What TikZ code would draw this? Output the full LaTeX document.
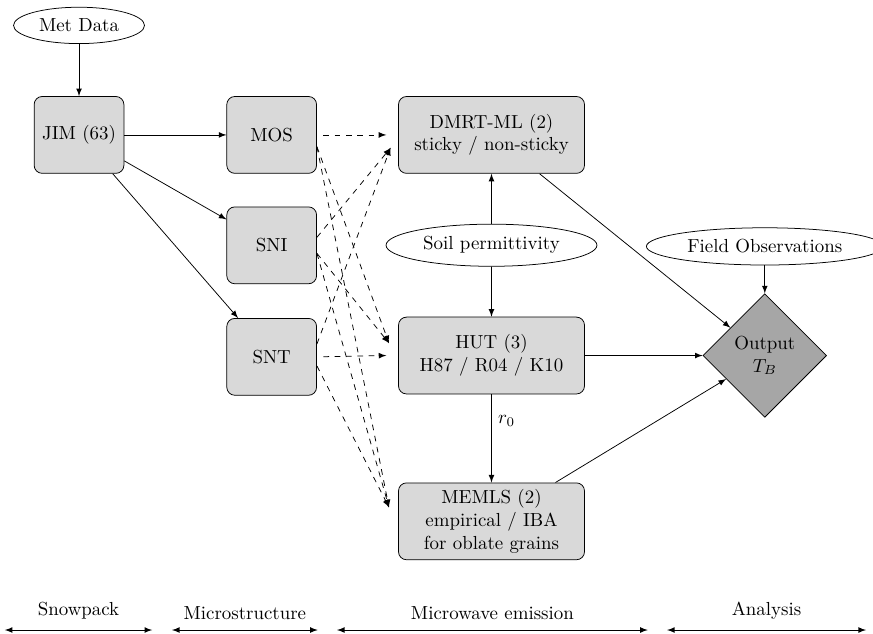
\documentclass[tikz,border=0pt]{standalone}
\usepackage{amsmath,amssymb}
\usepackage{tikz}
\usetikzlibrary{shapes,arrows,calc,positioning}

\begin{document}
\begin{tikzpicture}[>=latex, auto,
  box/.style={rectangle, rounded corners=0.15cm, draw, fill=gray!30, minimum height=1.43cm, minimum width=1.67cm, align=center},
  wide/.style={box, minimum width=3.46cm},
  ext/.style={ellipse, draw},
  result/.style={diamond, draw, fill=gray!70, minimum size=2.3cm, inner sep=0pt, align=center},
  feed/.style={->, dashed}]
\useasboundingbox (0,0) rectangle (16.24,-11.79);
% snowpack and microstructure
\node[box] (jim) at (1.47,-2.51) {JIM (63)};
\node[ext, above=0.97cm of jim] (met) {Met Data};
\node[box, right=1.9cm of jim] (mos) {MOS};
\node[box, below=0.61cm of mos] (sni) {SNI};
\node[box, below=0.63cm of sni] (snt) {SNT};
% emission models
\node[wide, right=1.51cm of mos] (dmrt) {DMRT-ML (2)\\sticky / non-sticky};
\node[wide, below=2.66cm of dmrt] (hut) {HUT (3)\\H87 / R04 / K10};
\node[wide, below=1.64cm of hut] (memls) {MEMLS (2)\\empirical / IBA\\for oblate grains};
\node[ext] (soil) at ($(dmrt)!0.5!(hut)$) {Soil permittivity};
% analysis
\node[result, right=2.19cm of hut] (output) {Output\\$T_B$};
\node[ext, above=0.52cm of output] (field) {Field Observations};
\draw[->] (met) -- (jim);
\draw[->] (jim) -- (mos);
\draw[->] (jim) -- (sni);
\draw[->] (jim) -- (snt);
\draw[feed, shorten <=0.12cm] (mos.east) -- ([xshift=-0.22cm]dmrt.west);
\draw[feed] ([yshift=-0.22cm]mos.east) -- ([xshift=-0.17cm,yshift=0.23cm]hut.west);
\draw[feed] ([yshift=-0.22cm]mos.east) -- ([xshift=-0.17cm,yshift=0.26cm]memls.west);
\draw[feed] ([yshift=0.15cm]sni.east) -- ([xshift=-0.14cm,yshift=-0.24cm]dmrt.west);
\draw[feed] ([yshift=-0.15cm]sni.east) -- ([xshift=-0.17cm,yshift=0.23cm]hut.west);
\draw[feed] ([yshift=-0.15cm]sni.east) -- ([xshift=-0.17cm,yshift=0.26cm]memls.west);
\draw[feed] ([yshift=0.24cm]snt.east) -- ([xshift=-0.14cm,yshift=-0.24cm]dmrt.west);
\draw[feed, shorten <=0.12cm] (snt.east) -- ([xshift=-0.22cm]hut.west);
\draw[feed] ([yshift=-0.17cm]snt.east) -- ([xshift=-0.17cm,yshift=0.26cm]memls.west);
\draw[->] (soil) -- (dmrt);
\draw[->] (soil) -- (hut);
\draw[->] (hut) -- node[right, pos=0.3] {$r_0$} (memls);
\draw[->] (dmrt) -- (output);
\draw[->] (hut) -- (output);
\draw[->] (memls) -- (output);
\draw[->] (field) -- (output);
% stages
\coordinate (snowa) at (0.09,-11.72);
\coordinate (snowb) at (2.83,-11.72);
\coordinate (microa) at (3.20,-11.72);
\coordinate (microb) at (5.91,-11.72);
\coordinate (emisa) at (6.27,-11.72);
\coordinate (emisb) at (12.05,-11.72);
\coordinate (anaa) at (12.41,-11.72);
\coordinate (anab) at (16.11,-11.72);
\draw[<->] (snowa) -- node[above=2pt] {Snowpack} (snowb);
\draw[<->] (microa) -- node[above=2pt] {Microstructure} (microb);
\draw[<->] (emisa) -- node[above=2pt] {Microwave emission} (emisb);
\draw[<->] (anaa) -- node[above=2pt] {Analysis} (anab);
\end{tikzpicture}
\end{document}
